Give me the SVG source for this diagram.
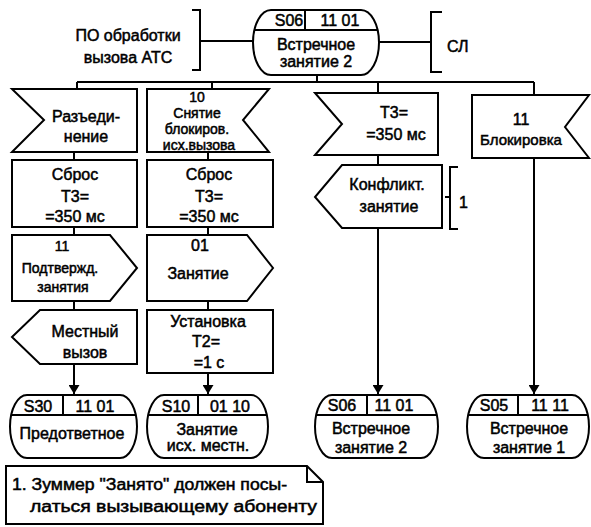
<svg xmlns="http://www.w3.org/2000/svg" width="591" height="527" viewBox="0 0 591 527">
<style>
.sh{fill:#fff;stroke:#000;stroke-width:2;stroke-linejoin:miter}
.ln{fill:none;stroke:#000;stroke-width:2}
.t{font-family:"Liberation Sans",Arial,sans-serif;font-size:16px;fill:#000;stroke:#000;stroke-width:0.5;text-anchor:middle}
.s{font-size:14px}
.m{font-size:15px}
.l{text-anchor:start}
</style>
<defs>
<marker id="arr" viewBox="0 0 10 10" refX="10" refY="5" markerWidth="9" markerHeight="11" orient="auto" markerUnits="userSpaceOnUse" preserveAspectRatio="none">
<path d="M0,0 L10,5 L0,10 z" fill="#000"/>
</marker>
</defs>
<rect width="591" height="527" fill="#fff"/>

<g id="connectors">
<path class="ln" d="M192,10 H200 V70 H192 M200,41 H253"/>
<path class="ln" d="M442,12 H431 V72 H442 M379,42 H431"/>
<path class="ln" d="M317,75 V82 M77,82 H534 M77,82 V89 M212,82 V89 M378,82 V93 M534,82 V95"/>
<path class="ln" d="M74,152 V160 M74,227 V235 M74,301 V310"/>
<path class="ln" d="M74,364 V394" marker-end="url(#arr)"/>
<path class="ln" d="M208,152 V160 M208,227 V235 M208,301 V310"/>
<path class="ln" d="M208,373 V394" marker-end="url(#arr)"/>
<path class="ln" d="M378,155 V165"/>
<path class="ln" d="M378,228 V394" marker-end="url(#arr)"/>
<path class="ln" d="M534,158 V394" marker-end="url(#arr)"/>
<path class="ln" d="M458,167 H450 V229 H458 M445,197 H450"/>
</g>

<g id="label-po">
<text class="t" x="128" y="41">ПО обработки</text>
<text class="t" x="128" y="63">вызова АТС</text>
</g>
<g id="label-sl">
<text class="t l" x="447" y="52">СЛ</text>
</g>

<g id="state-top">
<rect class="sh" x="253" y="10" width="126" height="65" rx="18" ry="32.5"/>
<path class="ln" d="M254.5,30 H377.5 M305,10 V30"/>
<text class="t" x="289" y="26">S06</text>
<text class="t" x="340" y="26">11 01</text>
<text class="t" x="316" y="50">Встречное</text>
<text class="t" x="316" y="67">занятие 2</text>
</g>

<g id="in-razed">
<path class="sh" d="M12,89 H137 V152 H12 L44,120 Z"/>
<text class="t" x="86" y="122">Разъеди-</text>
<text class="t" x="86" y="142">нение</text>
</g>
<g id="in-snyatie">
<path class="sh" d="M147,89 H269 L243,120 L269,152 H147 Z"/>
<text class="t s" x="197" y="102">10</text>
<text class="t s" x="197" y="118">Снятие</text>
<text class="t s" x="197" y="134">блокиров.</text>
<text class="t s" x="199" y="150">исх.вызова</text>
</g>
<g id="in-t3">
<path class="sh" d="M315,93 H438 V155 H315 L342,124 Z"/>
<text class="t" x="394" y="118">Т3=</text>
<text class="t" x="396" y="140">=350 мс</text>
</g>
<g id="in-blok">
<path class="sh" d="M472,95 H589 L565,127 L589,158 H472 Z"/>
<text class="t" x="521" y="125">11</text>
<text class="t m" x="521" y="145">Блокировка</text>
</g>

<g id="task-sbros1">
<rect class="sh" x="12" y="160" width="125" height="67"/>
<text class="t" x="75" y="180">Сброс</text>
<text class="t" x="75" y="202">Т3=</text>
<text class="t" x="75" y="222">=350 мс</text>
</g>
<g id="task-sbros2">
<rect class="sh" x="147" y="160" width="126" height="67"/>
<text class="t" x="209" y="180">Сброс</text>
<text class="t" x="209" y="202">Т3=</text>
<text class="t" x="209" y="222">=350 мс</text>
</g>

<g id="out-podtv">
<path class="sh" d="M12,235 H110 L137,268 L110,301 H12 Z"/>
<text class="t s" x="62" y="251">11</text>
<text class="t s" x="60" y="273">Подтвержд.</text>
<text class="t s" x="63" y="292">занятия</text>
</g>
<g id="out-zanyatie">
<path class="sh" d="M147,235 H247 L273,268 L247,301 H147 Z"/>
<text class="t" x="200" y="251">01</text>
<text class="t" x="198" y="279">Занятие</text>
</g>

<g id="out-mestny">
<path class="sh" d="M40,310 H137 V364 H40 L12,337 Z"/>
<text class="t" x="85" y="337">Местный</text>
<text class="t" x="85" y="358">вызов</text>
</g>
<g id="task-ust">
<rect class="sh" x="147" y="310" width="126" height="63"/>
<text class="t" x="208" y="327">Установка</text>
<text class="t" x="206" y="347">Т2=</text>
<text class="t" x="209" y="368">=1 с</text>
</g>

<g id="out-konflikt">
<path class="sh" d="M342,165 H442 V228 H342 L315,197 Z"/>
<text class="t" x="387" y="190">Конфликт.</text>
<text class="t" x="389" y="212">занятие</text>
</g>
<g id="comment-1">
<text class="t l" x="459" y="208">1</text>
</g>

<g id="state-s30">
<rect class="sh" x="10" y="395" width="127" height="63" rx="17" ry="31.5"/>
<path class="ln" d="M11.3,415 H135.7 M63,395 V415"/>
<text class="t" x="38" y="412">S30</text>
<text class="t" x="95" y="412">11 01</text>
<text class="t" x="72" y="439">Предответное</text>
</g>
<g id="state-s10">
<rect class="sh" x="147" y="395" width="121" height="63" rx="17" ry="31.5"/>
<path class="ln" d="M148.3,415 H266.7 M198,395 V415"/>
<text class="t" x="176" y="412">S10</text>
<text class="t" x="230" y="412">01 10</text>
<text class="t" x="207" y="435">Занятие</text>
<text class="t" x="208" y="451">исх. местн.</text>
</g>
<g id="state-s06">
<rect class="sh" x="315" y="395" width="123" height="63" rx="17" ry="31.5"/>
<path class="ln" d="M316.3,415 H436.7 M367,395 V415"/>
<text class="t" x="342" y="411">S06</text>
<text class="t" x="394" y="411">11 01</text>
<text class="t" x="371" y="434">Встречное</text>
<text class="t" x="371" y="453">занятие 2</text>
</g>
<g id="state-s05">
<rect class="sh" x="467" y="395" width="122" height="63" rx="17" ry="31.5"/>
<path class="ln" d="M468.3,415 H587.7 M518,395 V415"/>
<text class="t" x="494" y="411">S05</text>
<text class="t" x="550" y="411">11 11</text>
<text class="t" x="529" y="434">Встречное</text>
<text class="t" x="529" y="453">занятие 1</text>
</g>

<g id="note">
<path class="sh" d="M6,466 H307 L323,482 V524 H6 Z"/>
<path class="ln" d="M307,466 V482 H323"/>
<text class="t l" x="12" y="490" textLength="275" lengthAdjust="spacingAndGlyphs">1. Зуммер "Занято" должен посы-</text>
<text class="t l" x="30" y="512" textLength="287" lengthAdjust="spacingAndGlyphs">латься вызывающему абоненту</text>
</g>
</svg>
